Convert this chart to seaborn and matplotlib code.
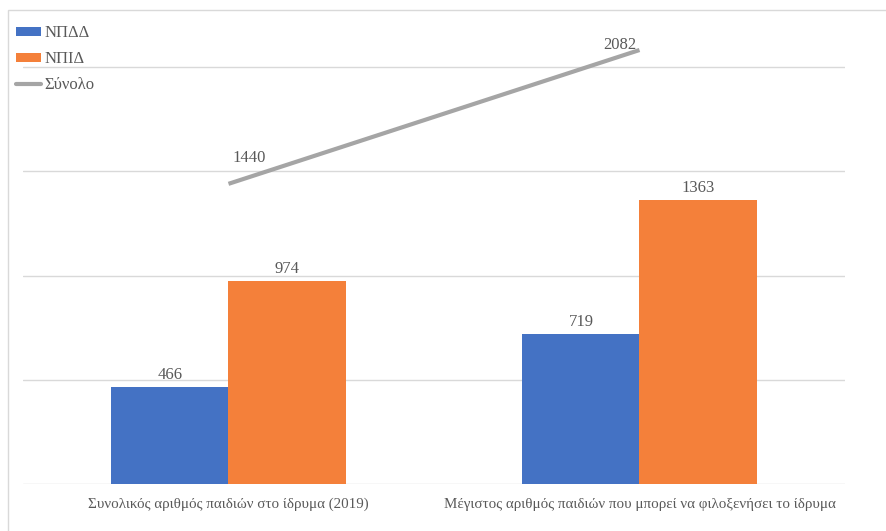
import matplotlib
matplotlib.use("Agg")
import matplotlib.pyplot as plt
import seaborn as sns
import pandas as pd
from matplotlib.patches import Rectangle, Patch
from matplotlib.lines import Line2D

categories = ["Συνολικός αριθμός παιδιών στο ίδρυμα (2019)",
              "Μέγιστος αριθμός παιδιών που μπορεί να φιλοξενήσει το ίδρυμα"]
series_names = ["ΝΠΔΔ", "ΝΠΙΔ"]
npdd = [466, 719]
npid = [974, 1363]
total = [1440, 2082]
total_name = "Σύνολο"

colors = {"ΝΠΔΔ": "#4472C4", "ΝΠΙΔ": "#F4803A"}
line_color = "#A5A5A5"
text_color = "#595959"

sns.set_theme(style="white")
plt.rcParams["font.family"] = ["Liberation Serif", "DejaVu Serif"]

df = pd.DataFrame({
    "cat": categories * 2,
    "series": [series_names[0]] * 2 + [series_names[1]] * 2,
    "value": npdd + npid,
})

fig = plt.figure(figsize=(8.86, 5.31), dpi=100)
W, H = 886, 531
ax = fig.add_axes([23 / W, 47 / H, (845 - 23) / W, (484 - 15) / H])

sns.barplot(data=df, x="cat", y="value", hue="series", palette=colors,
            width=0.57, dodge=True, ax=ax, legend=False, saturation=1,
            edgecolor="none")
ax.plot(range(len(categories)), total, color=line_color, lw=3,
        solid_capstyle="butt", zorder=3)

ax.set_xlim(-0.5, 1.5)
ax.set_ylim(0, 2250)
ax.set_yticks([0, 500, 1000, 1500, 2000])
ax.yaxis.grid(True, color="#D9D9D9", lw=1)
ax.set_axisbelow(True)
for s in ax.spines.values():
    s.set_visible(False)
ax.set_yticklabels([])
ax.tick_params(axis="y", length=0)
ax.tick_params(axis="x", length=0, pad=10, labelsize=10.8, labelcolor=text_color)
ax.set_xlabel("")
ax.set_ylabel("")

# bar labels
for cont in ax.containers:
    ax.bar_label(cont, padding=3, fontsize=12, color=text_color)

# line labels
ax.annotate(str(total[0]), (0, total[0]), xytext=(15, 13), textcoords="offset points",
            ha="center", va="bottom", fontsize=12, color=text_color)
ax.annotate(str(total[1]), (1, total[1]), xytext=(-14, -2), textcoords="offset points",
            ha="center", va="bottom", fontsize=12, color=text_color)

# legend
handles = [Patch(facecolor=colors[n], edgecolor="none") for n in series_names]
handles.append(Line2D([0], [0], color=line_color, lw=3))
leg = fig.legend(handles, series_names + [total_name], loc="upper left",
                 bbox_to_anchor=(1 / W, 1 - 10 / H), frameon=False,
                 fontsize=12, handlelength=1.5, handleheight=0.45,
                 handletextpad=0.2, labelspacing=0.6, labelcolor=text_color)

# chart frame
fig.patches.append(Rectangle((8 / W, -0.1), 1.2, 1 - 10 / H + 0.1,
                             transform=fig.transFigure, fill=False,
                             edgecolor="#D9D9D9", lw=1))

fig.savefig("out.png", dpi=100)
